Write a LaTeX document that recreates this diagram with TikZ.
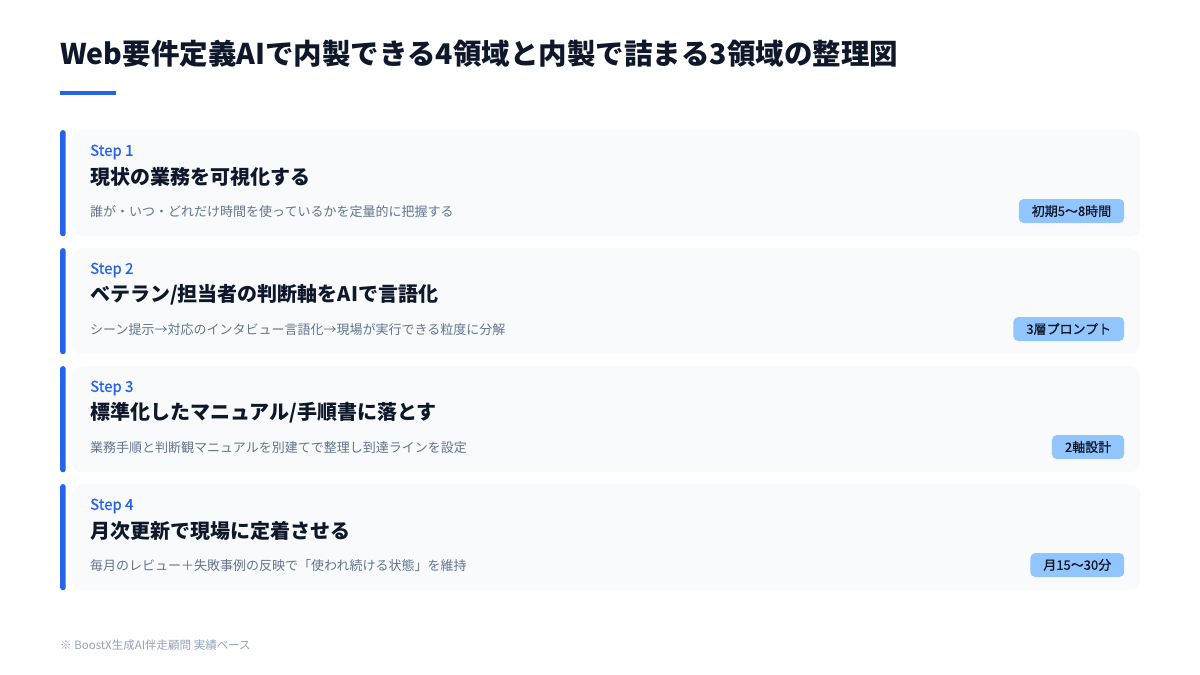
\documentclass[tikz,border=0pt]{standalone}
\usepackage{fontspec}
\setmainfont{Noto Sans CJK JP}
\newfontfamily\medfont[FakeBold=0.7]{Noto Sans CJK JP}
\usetikzlibrary{positioning}

\definecolor{ink}{HTML}{0F172A}
\definecolor{accent}{HTML}{2563EB}
\definecolor{cardbg}{HTML}{F8FAFC}
\definecolor{muted}{HTML}{64748B}
\definecolor{faint}{HTML}{94A3B8}
\definecolor{badgebg}{HTML}{93C5FD}

\begin{document}
\begin{tikzpicture}[x=1pt, y=-1pt,
    card/.style={fill=cardbg, rounded corners=10pt, minimum width=1068pt, minimum height=106pt, anchor=north west, inner sep=0pt},
    bar/.style={fill=accent, rounded corners=2.5pt, minimum width=5.5pt, minimum height=106pt, anchor=north west, inner sep=0pt},
    steplabel/.style={text=accent, font=\fontsize{15}{18}\medfont, anchor=west, inner sep=0pt},
    heading/.style={text=ink, font=\fontsize{20}{24}\selectfont\bfseries, anchor=west, inner sep=0pt},
    desc/.style={text=muted, font=\fontsize{13}{16}\selectfont, anchor=west, inner sep=0pt},
    badge/.style={fill=badgebg, rounded corners=5pt, text=ink, font=\fontsize{13}{16}\medfont, minimum height=24pt, inner xsep=13pt, inner ysep=0pt, anchor=east}]
      \useasboundingbox[fill=white] (0,0) rectangle (1200,675);

      % title
      \node[anchor=west, inner sep=0pt, text=ink, font=\fontsize{28.5}{34}\selectfont\bfseries] (title) at (60,54) {Web要件定義AIで内製できる4領域と内製で詰まる3領域の整理図};
      \fill[accent] (60,90.5) rectangle (116,94.5);

      % step 1
      \node[bar] (bar1) at (60,130) {};
      \node[card] (card1) at (72,130) {};
      \node[steplabel, below right=22pt and 18pt of card1.north west, anchor=west] (step1) {Step 1};
      \node[heading, below right=47pt and 18pt of card1.north west, anchor=west] (head1) {現状の業務を可視化する};
      \node[desc, below right=82pt and 18pt of card1.north west, anchor=west] (desc1) {誰が・いつ・どれだけ時間を使っているかを定量的に把握する};
      \node[badge, below left=81pt and 16pt of card1.north east, anchor=east] (badge1) {初期5〜8時間};

      % step 2
      \node[bar] (bar2) at (60,248) {};
      \node[card] (card2) at (72,248) {};
      \node[steplabel, below right=22pt and 18pt of card2.north west, anchor=west] (step2) {Step 2};
      \node[heading, below right=47pt and 18pt of card2.north west, anchor=west] (head2) {ベテラン/担当者の判断軸をAIで言語化};
      \node[desc, below right=82pt and 18pt of card2.north west, anchor=west] (desc2) {シーン提示→対応のインタビュー言語化→現場が実行できる粒度に分解};
      \node[badge, below left=81pt and 16pt of card2.north east, anchor=east] (badge2) {3層プロンプト};

      % step 3
      \node[bar] (bar3) at (60,366) {};
      \node[card] (card3) at (72,366) {};
      \node[steplabel, below right=22pt and 18pt of card3.north west, anchor=west] (step3) {Step 3};
      \node[heading, below right=47pt and 18pt of card3.north west, anchor=west] (head3) {標準化したマニュアル/手順書に落とす};
      \node[desc, below right=82pt and 18pt of card3.north west, anchor=west] (desc3) {業務手順と判断観マニュアルを別建てで整理し到達ラインを設定};
      \node[badge, below left=81pt and 16pt of card3.north east, anchor=east] (badge3) {2軸設計};

      % step 4
      \node[bar] (bar4) at (60,484) {};
      \node[card] (card4) at (72,484) {};
      \node[steplabel, below right=22pt and 18pt of card4.north west, anchor=west] (step4) {Step 4};
      \node[heading, below right=47pt and 18pt of card4.north west, anchor=west] (head4) {月次更新で現場に定着させる};
      \node[desc, below right=82pt and 18pt of card4.north west, anchor=west] (desc4) {毎月のレビュー＋失敗事例の反映で「使われ続ける状態」を維持};
      \node[badge, below left=81pt and 16pt of card4.north east, anchor=east] (badge4) {月15〜30分};

      % source
      \node[anchor=west, inner sep=0pt, text=faint, font=\fontsize{11.5}{14}\selectfont] (note) at (60,645) {※ BoostX生成AI伴走顧問 実績ベース};
    \end{tikzpicture}
\end{document}
